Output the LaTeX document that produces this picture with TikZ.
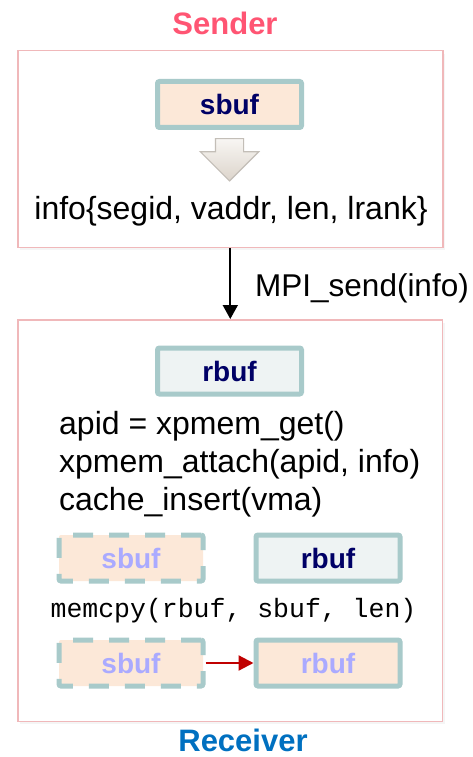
\documentclass[tikz,border=0pt]{standalone}
\usepackage{fontspec}
\setmainfont{Liberation Sans}
\setmonofont{Liberation Mono}
\usetikzlibrary{shapes.arrows, arrows.meta, positioning, shadows}
\definecolor{sendercolor}{RGB}{255, 85, 115}
\definecolor{receivercolor}{RGB}{0, 112, 192}
\definecolor{panelcolor}{RGB}{240, 184, 186}
\definecolor{bufedge}{RGB}{168, 202, 202}
\definecolor{peachcolor}{RGB}{252, 232, 216}
\definecolor{mistcolor}{RGB}{238, 243, 243}
\definecolor{navycolor}{RGB}{0, 0, 102}
\definecolor{ghostcolor}{RGB}{170, 170, 255}
\definecolor{copycolor}{RGB}{192, 0, 0}
\definecolor{arrowedge}{RGB}{195, 190, 183}
\definecolor{arrowtop}{RGB}{248, 246, 243}
\definecolor{arrowbottom}{RGB}{220, 212, 203}

\begin{document}
\begin{tikzpicture}[x=1pt, y=-1pt,
        panel/.style={rectangle, draw=panelcolor, line width=1.5pt, fill=white, drop shadow={shadow xshift=2pt, shadow yshift=-3pt, opacity=0.08}},
        title/.style={font=\bfseries\fontsize{31}{36}\selectfont, inner sep=0pt},
        plain/.style={font=\fontsize{32}{36}\selectfont, inner sep=0pt},
        mono/.style={font=\ttfamily\fontsize{26.5}{30}\selectfont, inner sep=0pt},
        buffer/.style={rectangle, rounded corners=2pt, draw=bufedge, line width=5pt, minimum width=144pt, minimum height=46pt, inner sep=0pt, font=\bfseries\fontsize{28}{32}\selectfont, text=navycolor},
        sendbuf/.style={buffer, fill=peachcolor},
        recvbuf/.style={buffer, fill=mistcolor},
        ghost/.style={buffer, fill=peachcolor, dash pattern=on 20pt off 16pt, text=ghostcolor},
        blockarrow/.style={single arrow, shape border rotate=270, draw=arrowedge, line width=1.2pt, top color=arrowtop, bottom color=arrowbottom, minimum height=42pt, inner sep=13.5pt, single arrow head extend=15pt},
        msgarrow/.style={line width=1.8pt, -{Triangle[length=14pt, width=15pt]}},
        copyarrow/.style={line width=2.2pt, copycolor, -{Triangle[length=15pt, width=15pt]}}
    ]
        \useasboundingbox (0,0) rectangle (472,757);

        % Sender
        \node[panel, minimum width=425pt, minimum height=196.5pt] (sender) at (230.3,149) {};
        \node[title, text=sendercolor, anchor=base] (sendertitle) at (225,35) {Sender};
        \node[sendbuf] (sbuf) at (229.5,104.5) {sbuf};
        \node[blockarrow, anchor=tail] (pack) at ([yshift=-8pt]sbuf.south) {};
        \node[plain, anchor=base] (info) at (231,219) {info\{segid, vaddr, len, lrank\}};

        % Receiver
        \node[panel, minimum width=424.5pt, minimum height=401.5pt] (receiver) at (230.3,520.5) {};
        \node[title, text=receivercolor, anchor=base] (receivertitle) at (243,751) {Receiver};
        \node[recvbuf] (rbuf) at (229.5,371) {rbuf};
        \node[plain, anchor=base west] (getline) at (59,434) {apid = xpmem\_get()};
        \node[plain, anchor=base west] (attachline) at ([yshift=-38pt]getline.base west) {xpmem\_attach(apid, info)};
        \node[plain, anchor=base west] (insertline) at ([yshift=-38pt]attachline.base west) {cache\_insert(vma)};

        % Before and after the copy
        \node[ghost] (ghostbuf) at (131,558) {sbuf};
        \node[recvbuf, right=48pt of ghostbuf] (emptybuf) {rbuf};
        \node[mono, anchor=base] (memcpy) at (233.5,617) {memcpy(rbuf, sbuf, len)};
        \node[ghost, below=54pt of ghostbuf] (ghostsrc) {sbuf};
        \node[sendbuf, text=ghostcolor, right=48pt of ghostsrc] (filledbuf) {rbuf};

        % Messages
        \draw[msgarrow] (sender) -- node[plain, right=24pt, yshift=-4.5pt, font=\fontsize{31.5}{36}\selectfont] (mpi) {MPI\_send(info)} (receiver);
        \draw[copyarrow] (ghostsrc) -- (filledbuf);
    \end{tikzpicture}
\end{document}
